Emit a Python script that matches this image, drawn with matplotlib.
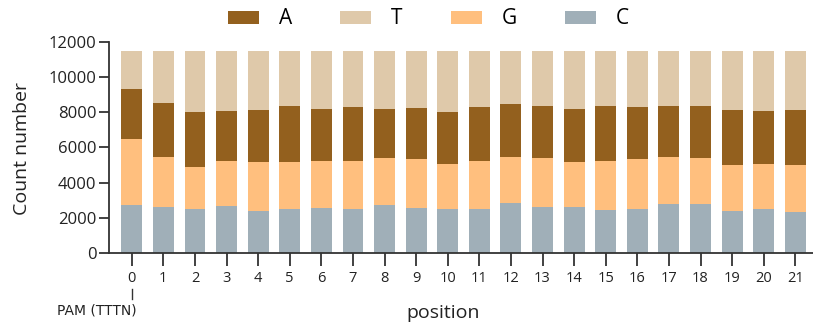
import matplotlib
matplotlib.use("Agg")
import matplotlib.pyplot as plt
import matplotlib.transforms as mtransforms
from matplotlib.patches import Patch
import numpy as np

positions = list(range(22))
tick_labels = [str(p) for p in positions]
C_counts = [2720, 2590, 2500, 2670, 2400, 2510, 2570, 2510, 2740, 2570, 2510,
            2510, 2840, 2610, 2610, 2440, 2480, 2760, 2760, 2400, 2480, 2310]
G_counts = [3750, 2870, 2380, 2570, 2740, 2650, 2670, 2720, 2650, 2760, 2570,
            2720, 2630, 2760, 2530, 2800, 2840, 2720, 2610, 2590, 2550, 2670]
A_counts = [2820, 3040, 3120, 2820, 2970, 3190, 2950, 3080, 2800, 2930, 2930,
            3040, 2990, 2990, 3060, 3080, 2970, 2840, 2990, 3120, 3030, 3160]
T_counts = [2210, 3000, 3500, 3440, 3390, 3150, 3310, 3190, 3310, 3240, 3490,
            3230, 3040, 3140, 3300, 3180, 3210, 3180, 3140, 3390, 3440, 3360]

colors = {"A": "#93601e", "T": "#dfc9aa", "G": "#ffbf7e", "C": "#a0afb8"}

plt.rcParams['font.family'] = ['Open Sans', 'DejaVu Sans']

fig = plt.figure(figsize=(8.13, 3.28), dpi=100)
ax = fig.add_axes([109/813, 1 - 253/328, (813 - 109)/813, (253 - 41.7)/328])

x = np.array(positions)
w = 0.66
C = np.array(C_counts); G = np.array(G_counts); A = np.array(A_counts); T = np.array(T_counts)
ax.bar(x, C, w, color=colors["C"], linewidth=0)
ax.bar(x, G, w, bottom=C, color=colors["G"], linewidth=0)
ax.bar(x, A, w, bottom=C + G, color=colors["A"], linewidth=0)
ax.bar(x, T, w, bottom=C + G + A, color=colors["T"], linewidth=0)

ax.set_xlim(-0.72, 21.56)
ax.set_ylim(0, 12000)
ax.set_yticks(np.arange(0, 12001, 2000))
ax.set_xticks(x)
ax.set_xticklabels(tick_labels)
for s in ["top", "right"]:
    ax.spines[s].set_visible(False)
for s in ["left", "bottom"]:
    ax.spines[s].set_color("#333333")
    ax.spines[s].set_linewidth(1.3)
ax.tick_params(axis="y", length=7, width=1.3, color="#333333", labelsize=12, pad=2, labelcolor="#222222")
ax.tick_params(axis="x", length=9, width=1.3, color="#333333", labelsize=10.5, pad=4, labelcolor="#222222")

ax.set_ylabel("Count number", fontsize=14, color="#222222")
ax.yaxis.set_label_coords(-0.111, 0.495)
ax.set_xlabel("position", fontsize=14, color="#222222")
ax.xaxis.set_label_coords(0.475, -0.284)
ax.xaxis.label.set_va("center")

# PAM annotation
tr = mtransforms.blended_transform_factory(ax.transData, fig.transFigure)
ax.plot([0, 0], [1 - 289/328, 1 - 299/328], transform=tr, color="#333333", lw=1.0, clip_on=False)
ax.text(0.17, 1 - 310/328, "PAM (TTTN)", transform=tr, ha="right", va="center",
        fontsize=10, color="#222222", family=['Liberation Sans Narrow', 'DejaVu Sans'])

handles = [Patch(facecolor=colors[k], edgecolor="none", label=k) for k in ["A", "T", "G", "C"]]
fig.legend(handles=handles, loc="center", bbox_to_anchor=(0.527, 1 - 19/328), ncol=4,
           frameon=False, fontsize=15, handlelength=1.5, handleheight=0.58,
           handletextpad=0.95, columnspacing=2.3)

fig.savefig("out.png", dpi=100)
